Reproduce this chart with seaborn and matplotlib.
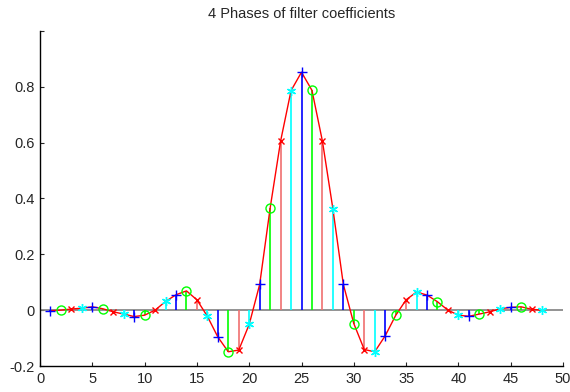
import matplotlib
matplotlib.use('Agg')
import matplotlib.pyplot as plt
import seaborn as sns
import pandas as pd

# filter coefficients, tap index 1..48
taps = list(range(1, 49))
coeffs = [-0.002, 0.0, 0.004, 0.007, 0.012, 0.005, -0.006, -0.014,
          -0.023, -0.018, 0.0, 0.031, 0.055, 0.069, 0.037, -0.022,
          -0.096, -0.149, -0.143, -0.051, 0.092, 0.365, 0.605, 0.786,
          0.852, 0.787, 0.605, 0.363, 0.092, -0.048, -0.141, -0.149,
          -0.092, -0.019, 0.037, 0.065, 0.054, 0.030, 0.0, -0.018,
          -0.022, -0.014, -0.006, 0.005, 0.010, 0.012, 0.003, 0.0]

# phase k takes every 4th tap starting at k
phase_colors = ['#0000ff', '#00ff00', '#f07070', '#00ffff']
phase_marker_colors = ['#0000ff', '#00ff00', '#ff0000', '#00ffff']
phase_markers = ['+', 'o', 'x', (6, 2, 0)]
phase_sizes = [7, 6.5, 5, 6.5]

df = pd.DataFrame({'tap': taps, 'coef': coeffs})

sns.set_style('ticks')
plt.rcParams['font.family'] = ['Liberation Sans', 'DejaVu Sans']

fig = plt.figure(figsize=(5.7, 3.92), dpi=100)
ax = fig.add_axes([0.0702, 0.0663, 0.9175, 0.855])

ax.axhline(0, color='#808080', lw=1.2, zorder=1)

for k in range(4):
    sub = df.iloc[k::4]
    ax.vlines(sub['tap'], 0, sub['coef'], color=phase_colors[k], lw=1.2, zorder=2)

sns.lineplot(data=df, x='tap', y='coef', color='red', lw=1, ax=ax, zorder=3)

for k in range(4):
    sub = df.iloc[k::4]
    face = 'none' if phase_markers[k] == 'o' else phase_marker_colors[k]
    ax.plot(sub['tap'], sub['coef'], linestyle='none', marker=phase_markers[k],
            ms=phase_sizes[k], mew=1, mfc=face, mec=phase_marker_colors[k], zorder=4)

ax.set_xlim(0, 50)
ax.set_ylim(-0.2, 1.0)
ax.set_xticks(range(0, 51, 5))
ax.set_yticks([-0.2, 0, 0.2, 0.4, 0.6, 0.8, 1.0])
ax.set_yticklabels(['-0.2', '0', '0.2', '0.4', '0.6', '0.8', ''])
ax.tick_params(direction='in', length=3, width=0.8, labelsize=10.5, pad=4)
ax.set_xlabel('')
ax.set_ylabel('')
sns.despine(ax=ax)
for s in ['left', 'bottom']:
    ax.spines[s].set_linewidth(1)
    ax.spines[s].set_color('black')

ax.set_title('4 Phases of filter coefficients', fontsize=10.5, pad=9)

fig.savefig('out.png', dpi=100)
